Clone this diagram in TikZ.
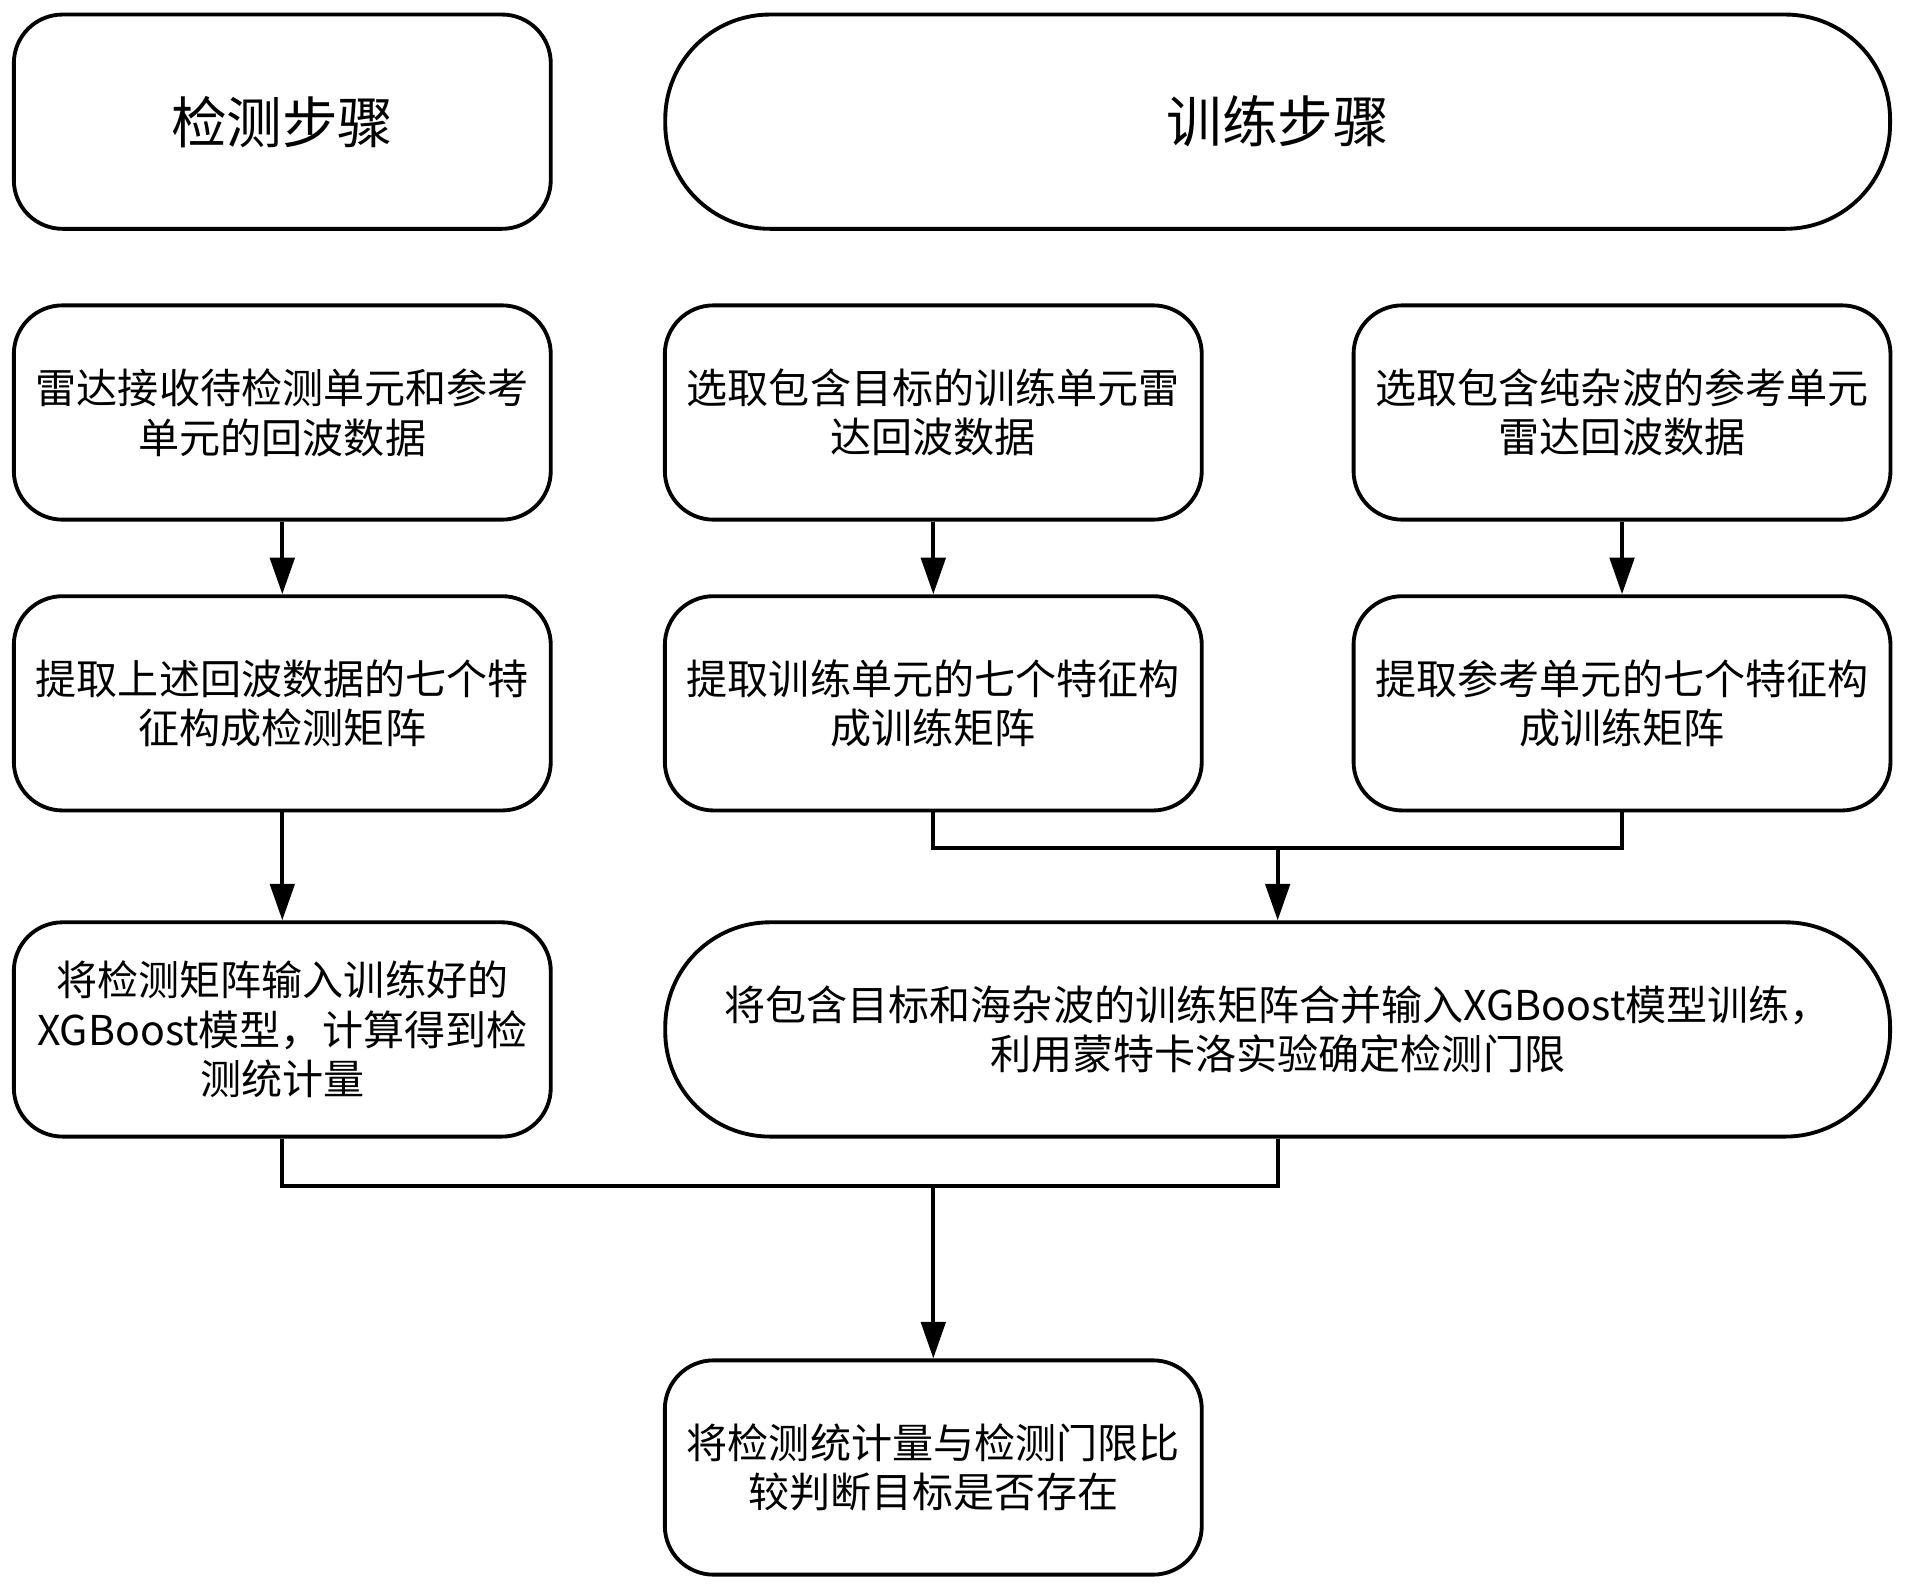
\documentclass[tikz,border=0pt]{standalone}
\usepackage{fontspec}
\setmainfont{Noto Sans CJK SC}
\usetikzlibrary{arrows.meta}
\begin{document}
\begin{tikzpicture}[x=0.01cm,y=-0.01cm,
 box/.style={draw,line width=0.9pt,rounded corners=0.4cm,minimum height=1.76cm,align=center,font=\fontsize{9.6pt}{11.6pt}\selectfont,inner sep=0pt},
 sw/.style={box,minimum width=4.41cm,text width=4.2cm},
 wide/.style={box,minimum width=10.06cm,rounded corners=0.86cm,text width=9.5cm},
 title/.style={font=\fontsize{13pt}{15pt}\selectfont},
 arr/.style={line width=0.9pt,-{Triangle[length=0.3cm,width=0.2cm]}},
 ln/.style={line width=0.9pt}]
\useasboundingbox (0,0) rectangle (1568,1306);
\node[sw,title] (det) at (232,100) {检测步骤};
\node[wide,title] (tr) at (1050,100) {训练步骤};
\node[sw] (a1) at (232,339) {雷达接收待检测单元和参考\\单元的回波数据};
\node[sw] (b1) at (767,339) {选取包含目标的训练单元雷\\达回波数据};
\node[sw] (c1) at (1333,339) {选取包含纯杂波的参考单元\\雷达回波数据};
\node[sw] (a2) at (232,578) {提取上述回波数据的七个特\\征构成检测矩阵};
\node[sw] (b2) at (767,578) {提取训练单元的七个特征构\\成训练矩阵};
\node[sw] (c2) at (1333,578) {提取参考单元的七个特征构\\成训练矩阵};
\node[sw] (a3) at (232,846) {将检测矩阵输入训练好的\\XGBoost模型，计算得到检\\测统计量};
\node[wide] (b3) at (1050,846) {将包含目标和海杂波的训练矩阵合并输入XGBoost模型训练，\\利用蒙特卡洛实验确定检测门限};
\node[sw] (d) at (767,1206) {将检测统计量与检测门限比\\较判断目标是否存在};
\draw[arr] (a1) -- (a2);
\draw[arr] (b1) -- (b2);
\draw[arr] (c1) -- (c2);
\draw[arr] (a2) -- (a3);
\coordinate (m1) at (1050,697);
\draw[ln] (b2.south) |- (m1) -| (c2.south);
\draw[arr] (m1) -- (b3.north);
\coordinate (m2) at (767,975);
\draw[ln] (a3.south) |- (m2) -| (b3.south);
\draw[arr] (m2) -- (d.north);
\end{tikzpicture}
\end{document}
